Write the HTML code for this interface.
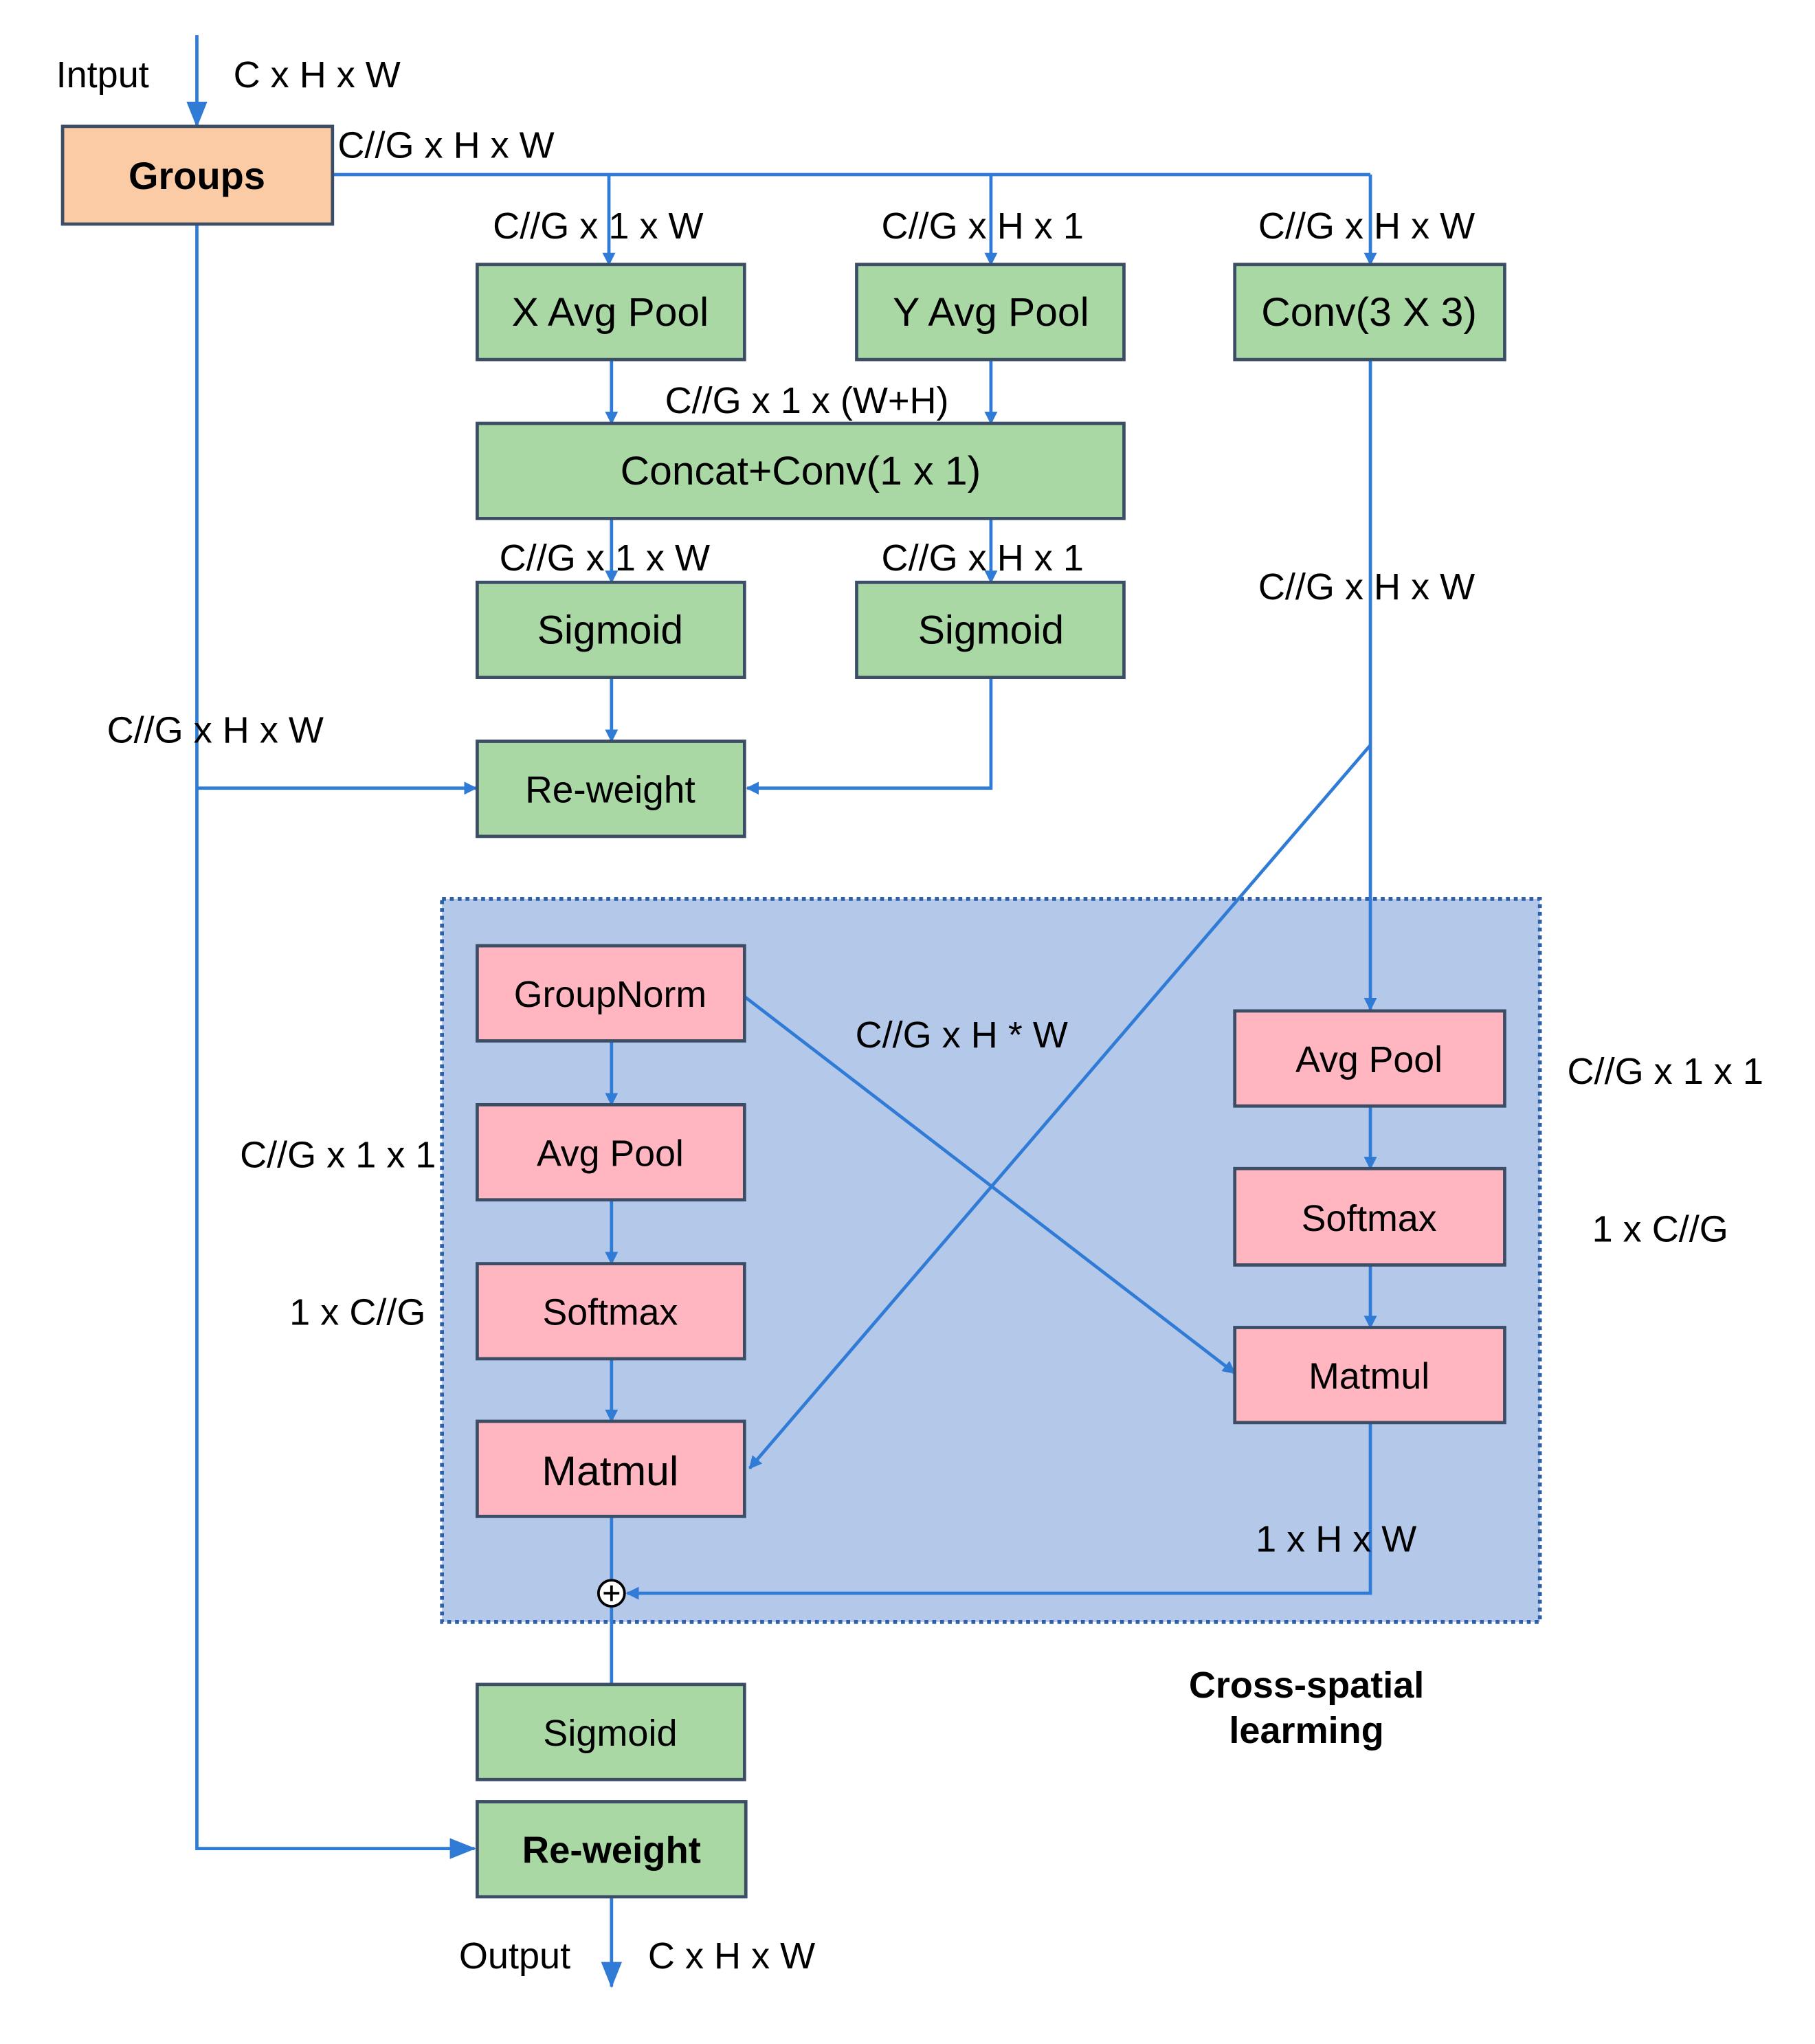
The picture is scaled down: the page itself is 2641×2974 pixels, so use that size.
<!DOCTYPE html>
<html><head><meta charset="utf-8"><style>html,body{margin:0;padding:0;background:#fff}svg{display:block}</style></head><body>
<svg width="2641" height="2974" viewBox="0 0 1392 1569" preserveAspectRatio="none" xmlns="http://www.w3.org/2000/svg" font-family="Liberation Sans, sans-serif">
<defs>
<marker id="a" markerWidth="10" markerHeight="10" refX="9" refY="5" orient="auto" markerUnits="userSpaceOnUse"><path d="M0,0 L10,5 L0,10 z" fill="#2F7BD6"/></marker>
<marker id="b" markerWidth="20" markerHeight="20" refX="19" refY="10" orient="auto" markerUnits="userSpaceOnUse"><path d="M0,2 L20,10 L0,18 z" fill="#2F7BD6"/></marker>
</defs>
<rect x="339" y="690" width="842" height="555" fill="#B4C8E9" stroke="#2F5FA6" stroke-width="3" stroke-dasharray="3,3"/>
<g stroke="#2F7BD6" stroke-width="2.5" fill="none">
<line x1="151" y1="27" x2="151" y2="97" marker-end="url(#b)"/>
<polyline points="255,134 1051,134"/>
<line x1="467" y1="134" x2="467" y2="203" marker-end="url(#a)"/>
<line x1="760" y1="134" x2="760" y2="203" marker-end="url(#a)"/>
<line x1="1051" y1="134" x2="1051" y2="203" marker-end="url(#a)"/>
<line x1="469" y1="276" x2="469" y2="325" marker-end="url(#a)"/>
<line x1="760" y1="276" x2="760" y2="325" marker-end="url(#a)"/>
<line x1="469" y1="398" x2="469" y2="447" marker-end="url(#a)"/>
<line x1="760" y1="398" x2="760" y2="447" marker-end="url(#a)"/>
<line x1="469" y1="520" x2="469" y2="569" marker-end="url(#a)"/>
<polyline points="760,520 760,605 573,605" marker-end="url(#a)"/>
<polyline points="151,172 151,1419 364,1419" marker-end="url(#b)"/>
<line x1="151" y1="605" x2="365" y2="605" marker-end="url(#a)"/>
<line x1="1051" y1="276" x2="1051" y2="775" marker-end="url(#a)"/>
<line x1="1051" y1="572" x2="575" y2="1127" marker-end="url(#a)"/>
<line x1="571" y1="765" x2="947" y2="1054" marker-end="url(#a)"/>
<line x1="469" y1="799" x2="469" y2="848" marker-end="url(#a)"/>
<line x1="469" y1="921" x2="469" y2="970" marker-end="url(#a)"/>
<line x1="469" y1="1043" x2="469" y2="1091" marker-end="url(#a)"/>
<line x1="1051" y1="849" x2="1051" y2="897" marker-end="url(#a)"/>
<line x1="1051" y1="971" x2="1051" y2="1019" marker-end="url(#a)"/>
<line x1="469" y1="1164" x2="469" y2="1213"/>
<polyline points="1051,1092 1051,1223 481,1223" marker-end="url(#a)"/>
<line x1="469" y1="1233" x2="469" y2="1293"/>
<line x1="469" y1="1456" x2="469" y2="1525" marker-end="url(#b)"/>
</g>
<circle cx="469" cy="1223" r="10" fill="#fff" stroke="#000" stroke-width="2"/>
<path d="M463,1223 H475 M469,1217 V1229" stroke="#000" stroke-width="2"/>
<g stroke="#3B4E66" stroke-width="2.5">
<rect x="48" y="97" width="207" height="75" fill="#FBCBA6"/>
<g fill="#A9D8A5">
<rect x="366" y="203" width="205" height="73"/><rect x="657" y="203" width="205" height="73"/><rect x="947" y="203" width="207" height="73"/>
<rect x="366" y="325" width="496" height="73"/>
<rect x="366" y="447" width="205" height="73"/><rect x="657" y="447" width="205" height="73"/>
<rect x="366" y="569" width="205" height="73"/>
<rect x="366" y="1293" width="205" height="73"/><rect x="366" y="1383" width="206" height="73"/>
</g>
<g fill="#FFB6C1">
<rect x="366" y="726" width="205" height="73"/><rect x="366" y="848" width="205" height="73"/><rect x="366" y="970" width="205" height="73"/><rect x="366" y="1091" width="205" height="73"/>
<rect x="947" y="776" width="207" height="73"/><rect x="947" y="897" width="207" height="74"/><rect x="947" y="1019" width="207" height="73"/>
</g>
</g>
<g font-size="31" text-anchor="middle" fill="#000">
<text x="151" y="145" font-weight="bold" font-size="29.5">Groups</text>
<text x="468" y="250">X Avg Pool</text><text x="760" y="250">Y Avg Pool</text><text x="1050" y="250">Conv(3 X 3)</text>
<text x="614" y="372">Concat+Conv(1 x 1)</text>
<text x="468" y="494">Sigmoid</text><text x="760" y="494">Sigmoid</text>
<text x="468" y="616" font-size="29">Re-weight</text>
<text x="468" y="773" font-size="28.3">GroupNorm</text><text x="468" y="895" font-size="28.3">Avg Pool</text><text x="468" y="1017" font-size="28.3">Softmax</text><text x="468" y="1140" font-size="32">Matmul</text>
<text x="1050" y="823" font-size="28.3">Avg Pool</text><text x="1050" y="945" font-size="28.3">Softmax</text><text x="1050" y="1066" font-size="28.3">Matmul</text>
<text x="468" y="1340" font-size="28.5">Sigmoid</text><text x="469" y="1430" font-size="28.7" font-weight="bold">Re-weight</text>
<text x="1002" y="1303" font-size="28.5" font-weight="bold">Cross-spatial</text><text x="1002" y="1338" font-size="28.5" font-weight="bold">learming</text>
</g>
<g font-size="28.5" fill="#000">
<text x="43" y="67">Intput</text><text x="179" y="67">C x H x W</text>
<text x="259" y="121">C//G x H x W</text>
<text x="378" y="183">C//G x 1 x W</text><text x="676" y="183">C//G x H x 1</text><text x="965" y="183">C//G x H x W</text>
<text x="510" y="317">C//G x 1 x (W+H)</text>
<text x="383" y="438">C//G x 1 x W</text><text x="676" y="438">C//G x H x 1</text>
<text x="965" y="460">C//G x H x W</text>
<text x="82" y="570">C//G x H x W</text>
<text x="656" y="804">C//G x H * W</text>
<text x="184" y="896">C//G x 1 x 1</text><text x="1202" y="832">C//G x 1 x 1</text>
<text x="222" y="1017">1 x C//G</text><text x="1221" y="953">1 x C//G</text>
<text x="963" y="1191">1 x H x W</text>
<text x="352" y="1511">Output</text><text x="497" y="1511">C x H x W</text>
</g>
</svg>
</body></html>
